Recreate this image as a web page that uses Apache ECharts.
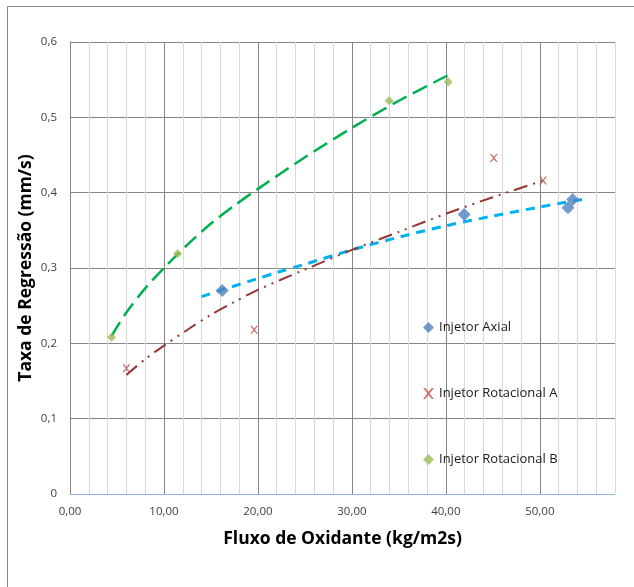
<!DOCTYPE html>
<html>
<head>
<meta charset="utf-8">
<script src="https://cdn.jsdelivr.net/npm/echarts@6/dist/echarts.min.js"></script>
<style>
  html, body { margin: 0; padding: 0; background: #fff; }
  #chart { width: 634px; height: 587px; }
</style>
</head>
<body>
<div id="chart"></div>
<script>
// pontos medidos
var axialX = [16.2, 41.95, 53.0, 53.5];
var axialY = [0.270, 0.371, 0.380, 0.391];
var rotAX = [6.0, 19.6, 45.1, 50.35];
var rotAY = [0.167, 0.218, 0.446, 0.416];
var rotBX = [4.43, 11.45, 33.97, 40.25];
var rotBY = [0.208, 0.319, 0.522, 0.547];

// linhas de tendencia
var trendBX = [4.43, 6, 8, 10, 12.5, 15, 17.5, 20, 25, 30, 35, 40.25];
var trendBY = [0.210, 0.241, 0.273, 0.300, 0.331, 0.359, 0.383, 0.405, 0.447, 0.486, 0.522, 0.556];
var trendAxX = [14, 16.2, 20, 22, 25, 30, 35, 40, 45, 50, 55];
var trendAxY = [0.262, 0.271, 0.286, 0.294, 0.305, 0.324, 0.341, 0.356, 0.369, 0.381, 0.392];
var trendAX = [6, 8, 10, 12.5, 15, 17.5, 20, 25, 30, 35, 40, 45, 50.35];
var trendAY = [0.158, 0.179, 0.197, 0.218, 0.238, 0.255, 0.271, 0.298, 0.324, 0.348, 0.372, 0.394, 0.416];

var yTicks = [0, 0.1, 0.2, 0.3, 0.4, 0.5, 0.6];

function pairs(xs, ys) {
  return xs.map(function (x, i) { return [x, ys[i]]; });
}

var fontName = 'Open Sans';
var xMark = 'path://M0,0 L2,0 L5,3.5 L8,0 L10,0 L6,5 L10,10 L8,10 L5,6.5 L2,10 L0,10 L4,5 Z';

var chart = echarts.init(document.getElementById('chart'));
var option = {
  animation: false,
  backgroundColor: '#fff',
  textStyle: { fontFamily: fontName },
  graphic: [{
    type: 'rect',
    shape: { x: 7.5, y: 6.5, width: 700, height: 700 },
    style: { fill: 'none', stroke: '#868686', lineWidth: 1 },
    silent: true
  }],
  grid: { left: 70, right: 19, top: 42, bottom: 93 },
  legend: {
    orient: 'vertical',
    left: 418,
    top: 316,
    itemGap: 53,
    itemWidth: 11,
    itemHeight: 11,
    textStyle: { fontFamily: fontName, fontSize: 13, color: '#1a1a1a' },
    data: [
      { name: 'Injetor Axial', icon: 'diamond' },
      { name: 'Injetor Rotacional A', icon: xMark },
      { name: 'Injetor Rotacional B', icon: 'diamond' }
    ]
  },
  xAxis: {
    type: 'value',
    min: 0,
    max: 58,
    interval: 2,
    name: 'Fluxo de Oxidante (kg/m2s)',
    nameLocation: 'middle',
    nameGap: 36,
    nameTextStyle: { fontFamily: fontName, fontSize: 17.5, fontWeight: 'bold', color: '#000' },
    axisLine: { show: true, lineStyle: { color: '#8EB4E3', width: 1 } },
    axisTick: { show: false },
    axisLabel: {
      interval: 0,
      margin: 12,
      fontSize: 11.5,
      color: '#404040',
      formatter: function (v) {
        if (Math.round(v) % 10 !== 0) return '';
        return v.toFixed(2).replace('.', ',');
      }
    },
    splitLine: {
      show: true,
      lineStyle: { color: ['#868686', '#d9d9d9', '#d9d9d9', '#d9d9d9', '#d9d9d9'], width: 1 }
    }
  },
  yAxis: {
    type: 'value',
    min: yTicks[0],
    max: yTicks[yTicks.length - 1],
    interval: 0.1,
    name: 'Taxa de Regressão (mm/s)',
    nameLocation: 'middle',
    nameGap: 35,
    nameMoveOverlap: false,
    nameTextStyle: { fontFamily: fontName, fontSize: 17.5, fontWeight: 'bold', color: '#000' },
    axisLine: { show: true, lineStyle: { color: '#868686', width: 1 } },
    axisTick: { show: false },
    axisLabel: {
      margin: 13,
      fontSize: 11.5,
      color: '#404040',
      formatter: function (v) {
        return String(Math.round(v * 10) / 10).replace('.', ',');
      }
    },
    splitLine: { show: true, lineStyle: { color: '#868686', width: 1 } }
  },
  series: [
    {
      name: 'trendB', type: 'line', data: pairs(trendBX, trendBY),
      showSymbol: false, smooth: 0.3, silent: true, z: 2,
      lineStyle: { color: '#00B050', width: 2.5, type: [16, 7] }
    },
    {
      name: 'trendAx', type: 'line', data: pairs(trendAxX, trendAxY),
      showSymbol: false, smooth: 0.3, silent: true, z: 2,
      lineStyle: { color: '#00B0F0', width: 3, type: [9, 7] }
    },
    {
      name: 'trendA', type: 'line', data: pairs(trendAX, trendAY),
      showSymbol: false, smooth: 0.3, silent: true, z: 2,
      lineStyle: { color: '#953735', width: 2, type: [14, 6, 2, 6, 2, 6] }
    },
    {
      name: 'Injetor Axial', type: 'scatter', data: pairs(axialX, axialY),
      symbol: 'diamond', symbolSize: 13, z: 3,
      itemStyle: { color: '#4F81BD' }
    },
    {
      name: 'Injetor Rotacional A', type: 'scatter', data: pairs(rotAX, rotAY),
      symbol: xMark, symbolSize: 8, z: 3,
      itemStyle: { color: '#C0504D' }
    },
    {
      name: 'Injetor Rotacional B', type: 'scatter', data: pairs(rotBX, rotBY),
      symbol: 'diamond', symbolSize: 9, z: 3,
      itemStyle: { color: '#9BBB59' }
    }
  ]
};
chart.setOption(option);
</script>
</body>
</html>
